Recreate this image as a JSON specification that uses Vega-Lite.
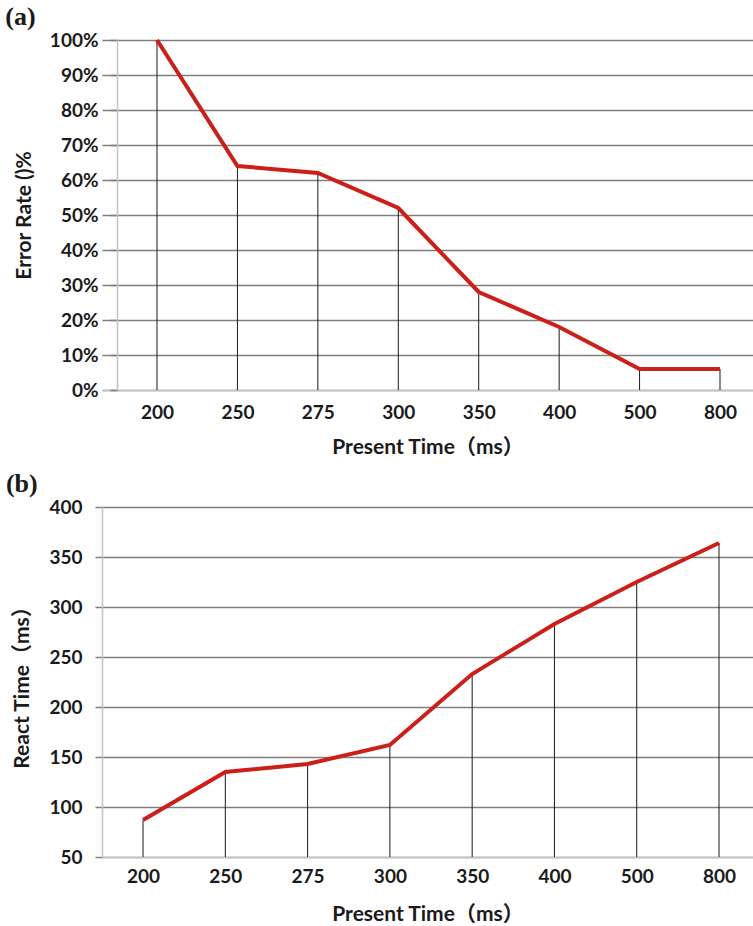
{
  "$schema": "https://vega.github.io/schema/vega-lite/v6.json",
  "background": "white",
  "padding": {"left": 5, "top": 4, "right": 0, "bottom": 0},
  "spacing": 14,
  "config": {
    "view": {"stroke": null},
    "font": "Lato",
    "axis": {
      "labelFont": "Lato",
      "labelFontWeight": "bold",
      "labelFontSize": 19,
      "labelColor": "#1a1a1a",
      "titleFont": "Lato, Noto Sans CJK SC",
      "titleFontWeight": "bold",
      "titleFontSize": 21,
      "titleColor": "#1a1a1a",
      "gridColor": "#7f7f7f",
      "gridWidth": 1.5,
      "gridOpacity": 1,
      "domainColor": "#c4c4c4",
      "domainWidth": 1.5,
      "tickColor": "#7f7f7f",
      "tickWidth": 1.5
    },
    "title": {"font": "Liberation Serif", "fontSize": 26, "fontWeight": "bold", "color": "#1a1a1a", "anchor": "start", "frame": "bounds"}
  },
  "vconcat": [
    {
      "title": {"text": "(a)", "dx": -8, "offset": 1},
      "width": 651,
      "height": 350,
      "data": {"values": [
        {"present": "200", "rate": 1.00},
        {"present": "250", "rate": 0.64},
        {"present": "275", "rate": 0.62},
        {"present": "300", "rate": 0.52},
        {"present": "350", "rate": 0.28},
        {"present": "400", "rate": 0.18},
        {"present": "500", "rate": 0.06},
        {"present": "800", "rate": 0.06}
      ]},
      "encoding": {
        "x": {
          "field": "present", "type": "ordinal", "sort": null,
          "scale": {"type": "point", "padding": 0.547, "align": 0.625},
          "axis": {"title": "Present Time（ms）", "labelAngle": 0, "ticks": false, "grid": false, "labelPadding": 13, "titlePadding": 14}
        },
        "y": {
          "field": "rate", "type": "quantitative",
          "scale": {"domain": [0, 1], "nice": false, "zero": true},
          "axis": {"title": "Error Rate ()%", "values": [0, 0.1, 0.2, 0.3, 0.4, 0.5, 0.6, 0.7, 0.8, 0.9, 1.0], "format": ".0%", "offset": -15, "tickSize": 7, "labelPadding": 12, "titlePadding": 15, "grid": true}
        }
      },
      "layer": [
        {"mark": {"type": "rule", "color": "#1a1a1a", "strokeWidth": 1}, "encoding": {"y2": {"datum": 0}}},
        {"mark": {"type": "line", "color": "#cc1f1a", "strokeWidth": 4}}
      ]
    },
    {
      "title": {"text": "(b)", "dx": -6, "offset": 1},
      "width": 651,
      "height": 350,
      "data": {"values": [
        {"present": "200", "react": 87},
        {"present": "250", "react": 135},
        {"present": "275", "react": 143},
        {"present": "300", "react": 162},
        {"present": "350", "react": 233},
        {"present": "400", "react": 283},
        {"present": "500", "react": 325},
        {"present": "800", "react": 364}
      ]},
      "encoding": {
        "x": {
          "field": "present", "type": "ordinal", "sort": null,
          "scale": {"type": "point", "padding": 0.456, "align": 0.547},
          "axis": {"title": "Present Time（ms）", "labelAngle": 0, "ticks": false, "grid": false, "labelPadding": 10, "titlePadding": 17}
        },
        "y": {
          "field": "react", "type": "quantitative",
          "scale": {"domain": [50, 400], "nice": false, "zero": false},
          "axis": {"title": "React Time（ms）", "values": [50, 100, 150, 200, 250, 300, 350, 400], "tickSize": 7, "labelPadding": 13, "titlePadding": 16, "grid": true}
        }
      },
      "layer": [
        {"mark": {"type": "rule", "color": "#1a1a1a", "strokeWidth": 1}, "encoding": {"y2": {"datum": 50}}},
        {"mark": {"type": "line", "color": "#cc1f1a", "strokeWidth": 4}}
      ]
    }
  ]
}
